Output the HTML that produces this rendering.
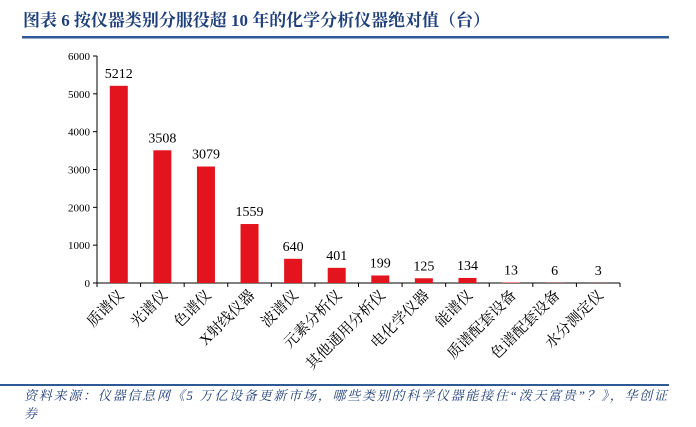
<!DOCTYPE html>
<html><head><meta charset="utf-8"><style>
body{margin:0;background:#fff;width:696px;height:422px;overflow:hidden;font-family:"Liberation Serif","Noto Serif CJK SC",serif}
</style></head><body>
<svg width="696" height="422">
<text x="23" y="26" font-size="17" font-weight="bold" fill="#1f3f7a" font-family="Liberation Serif,Noto Serif CJK SC,serif" textLength="467">图表 6  按仪器类别分服役超 10 年的化学分析仪器绝对值（台）</text>
<rect x="22" y="36" width="647" height="2.5" fill="#2d5a95"/>
<g id="plot"></g>
<rect x="0" y="384" width="669" height="2" fill="#2d5a95"/>
<text x="24" y="400" font-size="13" font-style="italic" fill="#1f3f7a" font-family="Liberation Serif,Noto Serif CJK SC,serif" textLength="643">资料来源：仪器信息网《5 万亿设备更新市场，哪些类别的科学仪器能接住“泼天富贵”？》，华创证</text>
<text x="24" y="418" font-size="13" font-style="italic" fill="#1f3f7a" font-family="Liberation Serif,Noto Serif CJK SC,serif">券</text>
</svg>
<script>
const categories=["质谱仪","光谱仪","色谱仪","X射线仪器","波谱仪","元素分析仪","其他通用分析仪","电化学仪器","能谱仪","质谱配套设备","色谱配套设备","水分测定仪"];
const values=[5212,3508,3079,1559,640,401,199,125,134,13,6,3];
const yTicks=[0,1000,2000,3000,4000,5000,6000];
const NS="http://www.w3.org/2000/svg";
const g=document.getElementById('plot');
const x0=97,x1=620,y0=283,yTop=56,yMax=6000;
const bw=(x1-x0)/categories.length;
const ys=v=>y0-(v/yMax)*(y0-yTop);
const xc=i=>x0+bw*(i+0.5);
function mk(t,a){const e=document.createElementNS(NS,t);for(const k in a)e.setAttribute(k,a[k]);g.appendChild(e);return e;}
let ax=mk('line',{x1:x0,y1:yTop,x2:x0,y2:y0,stroke:'#000','stroke-width':1});


let bx=mk('line',{x1:x0,y1:y0,x2:x1,y2:y0,stroke:'#000','stroke-width':1});


yTicks.forEach(t=>{
 const y=ys(t);
 mk('line',{x1:x0-4,y1:y,x2:x0,y2:y,stroke:'#000'});
 const tx=mk('text',{x:x0-7,y:y+4,'font-size':11,'text-anchor':'end'});tx.textContent=t;
 
 
});
for(let i=0;i<=categories.length;i++){const x=x0+bw*i;mk('line',{x1:x,y1:y0,x2:x,y2:y0+4,stroke:'#000'});}
categories.forEach((c,i)=>{
 const x=xc(i),v=values[i];
 const r=mk('rect',{x:x-9,y:ys(v),width:18,height:y0-ys(v),fill:'#e3141e'});
 
 
 const l=mk('text',{x:x,y:ys(v)-8,'font-size':14,'text-anchor':'middle'});l.textContent=v;
 
 
 const cl=mk('text',{x:0,y:0,'font-size':15,'text-anchor':'end',transform:`translate(${x+6},${y0+13}) rotate(-45)`});cl.textContent=c;
 
 
});
</script>
</body></html>
